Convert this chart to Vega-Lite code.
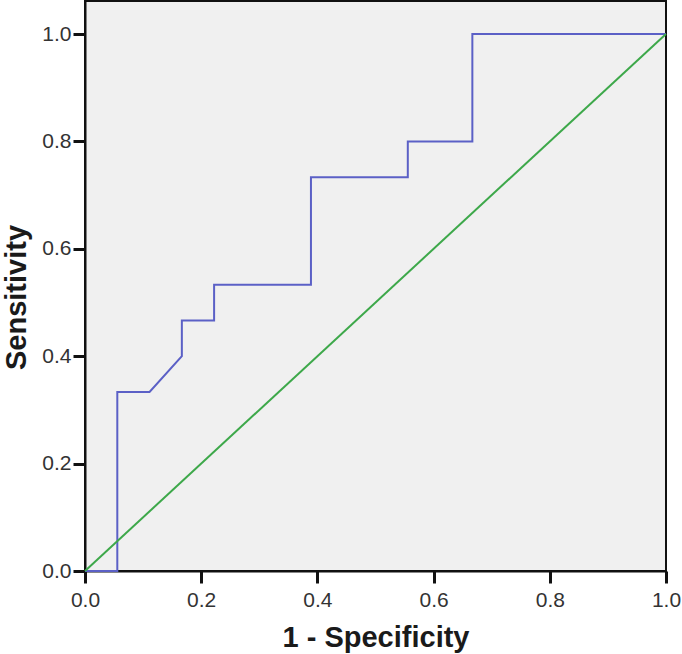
{
  "$schema": "https://vega.github.io/schema/vega-lite/v6.json",
  "autosize": {"type": "none"},
  "width": 581,
  "height": 570,
  "padding": {"left": 85, "top": 1, "right": 16, "bottom": 83},
  "background": "white",
  "config": {
    "view": {"fill": "#f0f0f0", "stroke": "#111111", "strokeWidth": 2},
    "axis": {
      "grid": false,
      "domainColor": "#111111",
      "domainWidth": 2,
      "tickColor": "#111111",
      "tickWidth": 3,
      "tickSize": 12,
      "labelFont": "Liberation Sans",
      "labelFontSize": 21,
      "labelColor": "#333333",
      "labelFlush": false,
      "titleFont": "Liberation Sans",
      "titleFontSize": 29,
      "titleFontWeight": "bold",
      "titleColor": "#1a1a1a"
    }
  },
  "data": {
    "values": [
      {"series": "roc", "i": 0, "fpr": 0, "tpr": 0},
      {"series": "roc", "i": 1, "fpr": 0.0556, "tpr": 0},
      {"series": "roc", "i": 2, "fpr": 0.0556, "tpr": 0.3333},
      {"series": "roc", "i": 3, "fpr": 0.1111, "tpr": 0.3333},
      {"series": "roc", "i": 4, "fpr": 0.1667, "tpr": 0.4},
      {"series": "roc", "i": 5, "fpr": 0.1667, "tpr": 0.4667},
      {"series": "roc", "i": 6, "fpr": 0.2222, "tpr": 0.4667},
      {"series": "roc", "i": 7, "fpr": 0.2222, "tpr": 0.5333},
      {"series": "roc", "i": 8, "fpr": 0.3889, "tpr": 0.5333},
      {"series": "roc", "i": 9, "fpr": 0.3889, "tpr": 0.7333},
      {"series": "roc", "i": 10, "fpr": 0.5556, "tpr": 0.7333},
      {"series": "roc", "i": 11, "fpr": 0.5556, "tpr": 0.8},
      {"series": "roc", "i": 12, "fpr": 0.6667, "tpr": 0.8},
      {"series": "roc", "i": 13, "fpr": 0.6667, "tpr": 1.0},
      {"series": "roc", "i": 14, "fpr": 1.0, "tpr": 1.0},
      {"series": "ref", "i": 0, "fpr": 0, "tpr": 0},
      {"series": "ref", "i": 1, "fpr": 1.0, "tpr": 1.0}
    ]
  },
  "mark": {"type": "line", "strokeWidth": 2, "clip": false},
  "encoding": {
    "x": {
      "field": "fpr", "type": "quantitative",
      "scale": {"domain": [0, 1], "nice": false, "zero": false},
      "axis": {
        "values": [0, 0.2, 0.4, 0.6, 0.8, 1.0],
        "format": ".1f",
        "title": "1 - Specificity",
        "labelPadding": 6,
        "titleBaseline": "alphabetic",
        "titleY": 75
      }
    },
    "y": {
      "field": "tpr", "type": "quantitative",
      "scale": {"domain": [0, 1.0615], "nice": false, "zero": false},
      "axis": {
        "values": [0, 0.2, 0.4, 0.6, 0.8, 1.0],
        "format": ".1f",
        "title": "Sensitivity",
        "labelPadding": 2,
        "titleAngle": 270,
        "titleAlign": "center",
        "titleBaseline": "middle",
        "titleX": -69,
        "titleY": 296
      }
    },
    "order": {"field": "i", "type": "quantitative"},
    "color": {
      "field": "series", "type": "nominal",
      "scale": {"domain": ["roc", "ref"], "range": ["#5b60c6", "#3da84a"]},
      "legend": null
    }
  }
}
